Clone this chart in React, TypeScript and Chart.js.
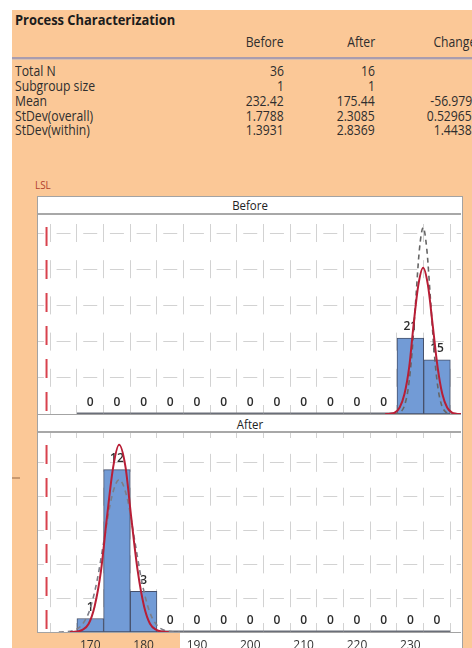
import React, { useEffect, useRef } from 'react';
import { Chart, registerables } from 'chart.js';
Chart.register(...registerables);

// ---------------- data ----------------
const binCenters = [170, 175, 180, 185, 190, 195, 200, 205, 210, 215, 220, 225, 230, 235];
const beforeCounts = [0, 0, 0, 0, 0, 0, 0, 0, 0, 0, 0, 0, 21, 15];
const afterCounts = [1, 12, 3, 0, 0, 0, 0, 0, 0, 0, 0, 0, 0, 0];
const xTickLabels = [170, 180, 190, 200, 210, 220, 230];
const xGridValues = [165, 170, 175, 180, 185, 190, 195, 200, 205, 210, 215, 220, 225, 230, 235];
const beforeGridY = [10, 20, 30, 40, 50];
const afterGridY = [2.5, 5, 7.5, 10, 12.5];
const lslValue = 161.8;

// fitted curves (overall = solid red, within = dashed grey)
const beforeOverallX = [225.3, 226.2, 227.1, 228.0, 228.9, 229.8, 230.6, 231.5, 232.4, 233.3, 234.2, 235.1, 236.0, 236.9, 237.8, 238.6, 239.5];
const beforeOverallY = [0, 0.1, 0.4, 1.8, 5.5, 13.1, 24.5, 35.6, 40.4, 35.6, 24.5, 13.1, 5.5, 1.8, 0.4, 0.1, 0];
const beforeWithinX = [226.85, 227.5, 228.2, 228.9, 229.6, 230.3, 231.0, 231.7, 232.4, 233.1, 233.8, 234.5, 235.2, 235.9, 236.6, 237.3, 238.0];
const beforeWithinY = [0, 0.1, 0.6, 2.3, 7.0, 16.7, 31.2, 45.4, 51.5, 45.4, 31.2, 16.7, 7.0, 2.3, 0.6, 0.1, 0];
const afterOverallX = [166.2, 167.4, 168.5, 169.7, 170.8, 172.0, 173.1, 174.3, 175.4, 176.6, 177.7, 178.9, 180.1, 181.2, 182.4, 183.5, 184.7];
const afterOverallY = [0, 0.03, 0.15, 0.61, 1.87, 4.49, 8.39, 12.2, 13.83, 12.2, 8.39, 4.49, 1.87, 0.61, 0.15, 0.03, 0];
const afterWithinX = [164.1, 165.5, 166.9, 168.35, 169.8, 171.2, 172.6, 174.0, 175.4, 176.9, 178.3, 179.7, 181.1, 182.5, 183.95, 185.4, 186.8];
const afterWithinY = [0, 0.02, 0.12, 0.49, 1.52, 3.65, 6.82, 9.93, 11.25, 9.93, 6.82, 3.65, 1.52, 0.49, 0.12, 0.02, 0];

// table
const statColumns = ['Before', 'After', 'Change'];
const statRows = ['Total N', 'Subgroup size', 'Mean', 'StDev(overall)', 'StDev(within)'];
const beforeStats = ['36', '1', '232.42', '1.7788', '1.3931'];
const afterStats = ['16', '1', '175.44', '2.3085', '2.8369'];
const changeStats = ['', '', '-56.979', '0.52965', '1.4438'];

// ---------------- chart panel ----------------
type PanelProps = {
  counts: number[];
  overallX: number[];
  overallY: number[];
  withinX: number[];
  withinY: number[];
  yMax: number;
  gridY: number[];
  showX: boolean;
  axisHeight: number;
  width: number;
  height: number;
  vDash: number[];
  vDashOffset: number;
  withinColor: string;
};

function Panel(p: PanelProps) {
  const ref = useRef<HTMLCanvasElement>(null);
  useEffect(() => {
    if (!ref.current) return;
    const labelPlugin = {
      id: 'countLabels',
      afterDatasetDraw(chart: any, args: any) {
        if (args.index !== 0) return;
        const ctx = chart.ctx;
        ctx.save();
        args.meta.data.forEach((bar: any, i: number) => {
          const v = p.counts[i];
          const { x, y, width } = bar.getProps(['x', 'y', 'width'], true);
          if (v === 0) {
            ctx.strokeStyle = '#6a6e78';
            ctx.lineWidth = 1.5;
            ctx.beginPath();
            ctx.moveTo(x - width / 2, y - 0.75);
            ctx.lineTo(x + width / 2, y - 0.75);
            ctx.stroke();
          }
          ctx.fillStyle = '#2c2c2c';
          ctx.font = '600 12px "Open Sans"';
          ctx.textAlign = 'center';
          ctx.textBaseline = 'middle';
          ctx.fillText(String(v), x, y - 11);
        });
        ctx.restore();
      },
    };
    const chart = new Chart(ref.current, {
      type: 'bar',
      data: {
        datasets: [
          {
            type: 'bar',
            data: binCenters.map((x, i) => ({ x, y: p.counts[i] })),
            backgroundColor: '#729bd6',
            borderColor: '#46506a',
            borderWidth: 1,
            borderSkipped: false,
            barPercentage: 1,
            categoryPercentage: 1,
            grouped: false,
            order: 5,
          } as any,
          {
            type: 'line',
            data: p.withinX.map((x, i) => ({ x, y: p.withinY[i] })),
            borderColor: p.withinColor,
            borderWidth: 1.6,
            borderDash: [5, 4],
            pointRadius: 0,
            fill: false,
            cubicInterpolationMode: 'monotone',
            order: 3,
          } as any,
          {
            type: 'line',
            data: p.overallX.map((x, i) => ({ x, y: p.overallY[i] })),
            borderColor: '#b81e36',
            borderWidth: 2,
            pointRadius: 0,
            fill: false,
            cubicInterpolationMode: 'monotone',
            order: 2,
          } as any,
          {
            type: 'line',
            data: [{ x: lslValue, y: p.yMax }, { x: lslValue, y: 0 }],
            borderColor: '#d8424e',
            borderWidth: 2,
            borderDash: [19, 14],
            borderDashOffset: 21,
            pointRadius: 0,
            fill: false,
            order: 1,
          } as any,
        ],
      },
      options: {
        animation: false,
        responsive: false,
        events: [],
        layout: { padding: 0, autoPadding: false },
        plugins: { legend: { display: false }, tooltip: { enabled: false } },
        scales: {
          x: {
            type: 'linear',
            min: 160.2,
            max: 239.5,
            offset: false,
            afterBuildTicks: (axis: any) => {
              axis.ticks = xGridValues.map((v) => ({ value: v }));
            },
            afterFit: (axis: any) => {
              axis.height = p.axisHeight;
            },
            grid: { color: '#d2d2d2', lineWidth: 1, drawTicks: false },
            border: { display: false, dash: p.vDash, dashOffset: p.vDashOffset },
            ticks: {
              display: p.showX,
              autoSkip: false,
              maxRotation: 0,
              padding: 6,
              color: '#333333',
              font: { family: '"Open Sans"', size: 12 },
              callback: (v: any) => (xTickLabels.includes(Number(v)) ? String(v) : ''),
            },
          },
          y: {
            type: 'linear',
            min: 0,
            max: p.yMax,
            afterBuildTicks: (axis: any) => {
              axis.ticks = p.gridY.map((v) => ({ value: v }));
            },
            afterFit: (axis: any) => {
              axis.width = 0;
            },
            grid: { color: '#d2d2d2', lineWidth: 1, drawTicks: false },
            border: { display: false, dash: [14, 12.67], dashOffset: 8.1 },
            ticks: { display: false },
          },
        },
      } as any,
      plugins: [labelPlugin],
    });
    return () => chart.destroy();
  }, []);
  return <canvas ref={ref} width={p.width} height={p.height} style={{ display: 'block' }} />;
}

// ---------------- text helper ----------------
function Txt(props: {
  x: number;
  y: number;
  align?: 'left' | 'right' | 'center';
  size?: number;
  bold?: boolean;
  color?: string;
  sx?: number;
  lh?: number;
  children: React.ReactNode;
}) {
  const { x, y, align = 'left', size = 14, bold = false, color = '#2e2e2e', sx = 0.87, lh = 16 } = props;
  const style: any = {
    position: 'absolute',
    top: y,
    fontSize: size,
    lineHeight: lh + 'px',
    fontWeight: bold ? 700 : 400,
    color,
    whiteSpace: 'nowrap',
  };
  if (align === 'left') {
    style.left = x;
    style.transform = `scaleX(${sx})`;
    style.transformOrigin = 'left center';
  } else if (align === 'right') {
    style.right = 472 - x;
    style.transform = `scaleX(${sx})`;
    style.transformOrigin = 'right center';
  } else {
    style.left = x;
    style.transform = `translateX(-50%) scaleX(${sx})`;
    style.transformOrigin = 'center center';
  }
  return <div style={style}>{props.children}</div>;
}

const colRight = [284, 375, 472];
const rowTops = [62.6, 77.6, 92.6, 107.6, 121.6];
const peach = '#fbc897';

export default function App() {
  const columnsData = [beforeStats, afterStats, changeStats];
  return (
    <div
      style={{
        position: 'fixed',
        left: 0,
        top: 0,
        width: 472,
        height: 648,
        overflow: 'hidden',
        background: '#ffffff',
        fontFamily: '"Open Sans", sans-serif',
      }}
    >
      {/* peach background */}
      <div style={{ position: 'absolute', left: 12, top: 10, right: 0, bottom: 0, background: peach }} />

      {/* table */}
      <Txt x={15} y={10} size={15} bold lh={18} color="#1c1c1c" sx={0.86}>
        Process Characterization
      </Txt>
      {statColumns.map((c, i) => (
        <Txt key={c} x={i === 2 ? 476 : colRight[i]} y={33.6} align="right">
          {c}
        </Txt>
      ))}
      <div style={{ position: 'absolute', left: 12, right: 0, top: 57, height: 2, background: '#a99cae' }} />
      <div style={{ position: 'absolute', left: 12, right: 0, top: 59, height: 1, background: '#d9bfae' }} />
      {statRows.map((r, i) => (
        <Txt key={r} x={15} y={rowTops[i]}>
          {r}
        </Txt>
      ))}
      {columnsData.map((col, ci) =>
        col.map((v, ri) =>
          v ? (
            <Txt key={ci + '-' + ri} x={colRight[ci]} y={rowTops[ri]} align="right">
              {v}
            </Txt>
          ) : null
        )
      )}

      {/* LSL label */}
      <Txt x={35} y={177} size={11} color="#b2402c" sx={0.9}>
        LSL
      </Txt>

      {/* small tick on the left */}
      <div style={{ position: 'absolute', left: 12, top: 477, width: 8, height: 2, background: '#c9986e' }} />

      {/* panel frame */}
      <div
        style={{
          position: 'absolute',
          left: 37,
          top: 196,
          width: 424,
          height: 470,
          border: '1px solid #a3a3a3',
          background: '#ffffff',
        }}
      />
      {/* peach patch under the lower-left axis labels */}
      <div style={{ position: 'absolute', left: 37, top: 633, width: 143, height: 20, background: peach }} />

      {/* Before strip */}
      <div style={{ position: 'absolute', left: 38, top: 213, width: 423, height: 2, background: '#a8a8a8' }} />
      <Txt x={249.5} y={197} align="center" size={13} color="#222" sx={0.88}>
        Before
      </Txt>
      <div style={{ position: 'absolute', left: 38, top: 215 }}>
        <Panel
          counts={beforeCounts}
          overallX={beforeOverallX}
          overallY={beforeOverallY}
          withinX={beforeWithinX}
          withinY={beforeWithinY}
          yMax={55}
          gridY={beforeGridY}
          showX={false}
          axisHeight={0}
          width={423}
          height={199}
          vDash={[18, 18.2]}
          vDashOffset={27.2}
          withinColor="#666666"
        />
      </div>
      <div style={{ position: 'absolute', left: 38, top: 414, width: 423, height: 1, background: '#a3a3a3' }} />
      {/* After strip */}
      <Txt x={249.5} y={416} align="center" size={13} color="#222" sx={0.88}>
        After
      </Txt>
      <div style={{ position: 'absolute', left: 38, top: 431, width: 423, height: 2, background: '#a8a8a8' }} />
      <div style={{ position: 'absolute', left: 38, top: 433 }}>
        <Panel
          counts={afterCounts}
          overallX={afterOverallX}
          overallY={afterOverallY}
          withinX={afterWithinX}
          withinY={afterWithinY}
          yMax={14.7}
          gridY={afterGridY}
          showX={true}
          axisHeight={28}
          width={423}
          height={227}
          vDash={[18, 15.84]}
          vDashOffset={13}
          withinColor="#7d7d86"
        />
      </div>
      <div style={{ position: 'absolute', left: 38, top: 632, width: 423, height: 1, background: '#a3a3a3' }} />
    </div>
  );
}
